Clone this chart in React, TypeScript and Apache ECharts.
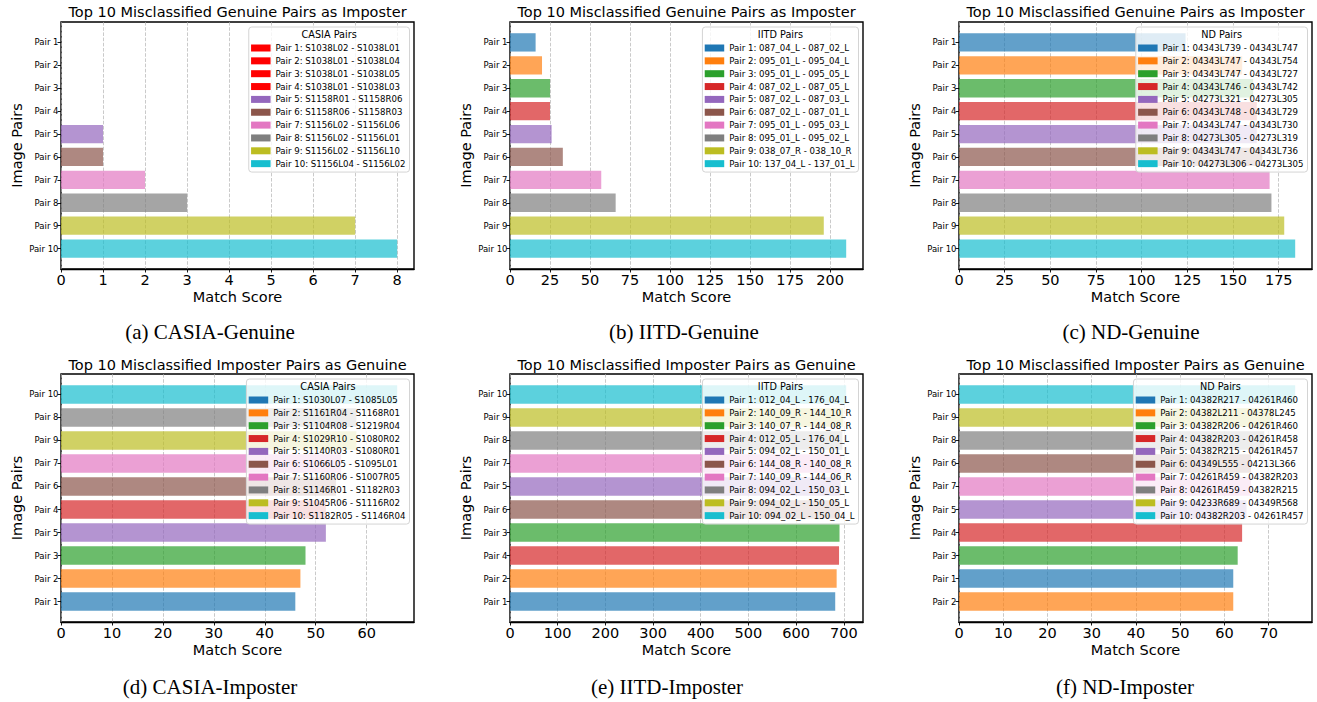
import React, { useEffect, useRef } from 'react';
import * as echarts from 'echarts';

const TAB10 = ['#1f77b4', '#ff7f0e', '#2ca02c', '#d62728', '#9467bd', '#8c564b', '#e377c2', '#7f7f7f', '#bcbd22', '#17becf'];

const TITLE_GENUINE = 'Top 10 Misclassified Genuine Pairs as Imposter';
const TITLE_IMPOSTER = 'Top 10 Misclassified Imposter Pairs as Genuine';

// (a) CASIA-Genuine
const casiaGenOrder = ['Pair 1', 'Pair 2', 'Pair 3', 'Pair 4', 'Pair 5', 'Pair 6', 'Pair 7', 'Pair 8', 'Pair 9', 'Pair 10'];
const casiaGenValues = [0, 0, 0, 0, 1, 1, 2, 3, 7, 8];
const casiaGenNames = [
  'Pair 1: S1038L02 - S1038L01', 'Pair 2: S1038L01 - S1038L04', 'Pair 3: S1038L01 - S1038L05',
  'Pair 4: S1038L01 - S1038L03', 'Pair 5: S1158R01 - S1158R06', 'Pair 6: S1158R06 - S1158R03',
  'Pair 7: S1156L02 - S1156L06', 'Pair 8: S1156L02 - S1156L01', 'Pair 9: S1156L02 - S1156L10',
  'Pair 10: S1156L04 - S1156L02'];
const casiaGenColors = ['#ff0000', '#ff0000', '#ff0000', '#ff0000', '#9467bd', '#8c564b', '#e377c2', '#7f7f7f', '#bcbd22', '#17becf'];
const casiaGenTicks = [0, 1, 2, 3, 4, 5, 6, 7, 8];

// (b) IITD-Genuine
const iitdGenOrder = ['Pair 1', 'Pair 2', 'Pair 3', 'Pair 4', 'Pair 5', 'Pair 6', 'Pair 7', 'Pair 8', 'Pair 9', 'Pair 10'];
const iitdGenValues = [16, 20, 25, 25, 26, 33, 57, 66, 196, 210];
const iitdGenNames = [
  'Pair 1: 087_04_L - 087_02_L', 'Pair 2: 095_01_L - 095_04_L', 'Pair 3: 095_01_L - 095_05_L',
  'Pair 4: 087_02_L - 087_05_L', 'Pair 5: 087_02_L - 087_03_L', 'Pair 6: 087_02_L - 087_01_L',
  'Pair 7: 095_01_L - 095_03_L', 'Pair 8: 095_01_L - 095_02_L', 'Pair 9: 038_07_R - 038_10_R',
  'Pair 10: 137_04_L - 137_01_L'];
const iitdGenTicks = [0, 25, 50, 75, 100, 125, 150, 175, 200];

// (c) ND-Genuine
const ndGenOrder = ['Pair 1', 'Pair 2', 'Pair 3', 'Pair 4', 'Pair 5', 'Pair 6', 'Pair 7', 'Pair 8', 'Pair 9', 'Pair 10'];
const ndGenValues = [124, 155, 161, 163, 163, 166, 170, 171, 178, 184];
const ndGenNames = [
  'Pair 1: 04343L739 - 04343L747', 'Pair 2: 04343L747 - 04343L754', 'Pair 3: 04343L747 - 04343L727',
  'Pair 4: 04343L746 - 04343L742', 'Pair 5: 04273L321 - 04273L305', 'Pair 6: 04343L748 - 04343L729',
  'Pair 7: 04343L747 - 04343L730', 'Pair 8: 04273L305 - 04273L319', 'Pair 9: 04343L747 - 04343L736',
  'Pair 10: 04273L306 - 04273L305'];
const ndGenTicks = [0, 25, 50, 75, 100, 125, 150, 175];

// (d) CASIA-Imposter  (order: top to bottom)
const casiaImpOrder = ['Pair 10', 'Pair 8', 'Pair 9', 'Pair 7', 'Pair 6', 'Pair 4', 'Pair 5', 'Pair 3', 'Pair 2', 'Pair 1'];
const casiaImpValues = [46, 47, 48, 52, 52, 54, 55, 58, 58, 66];
const casiaImpNames = [
  'Pair 1: S1030L07 - S1085L05', 'Pair 2: S1161R04 - S1168R01', 'Pair 3: S1104R08 - S1219R04',
  'Pair 4: S1029R10 - S1080R02', 'Pair 5: S1140R03 - S1080R01', 'Pair 6: S1066L05 - S1095L01',
  'Pair 7: S1160R06 - S1007R05', 'Pair 8: S1146R01 - S1182R03', 'Pair 9: S1045R06 - S1116R02',
  'Pair 10: S1182R05 - S1146R04'];
const casiaImpTicks = [0, 10, 20, 30, 40, 50, 60];

// (e) IITD-Imposter
const iitdImpOrder = ['Pair 10', 'Pair 9', 'Pair 8', 'Pair 7', 'Pair 5', 'Pair 6', 'Pair 3', 'Pair 4', 'Pair 2', 'Pair 1'];
const iitdImpValues = [682, 685, 691, 690, 693, 692, 695, 697, 699, 705];
const iitdImpNames = [
  'Pair 1: 012_04_L - 176_04_L', 'Pair 2: 140_09_R - 144_10_R', 'Pair 3: 140_07_R - 144_08_R',
  'Pair 4: 012_05_L - 176_04_L', 'Pair 5: 094_02_L - 150_01_L', 'Pair 6: 144_08_R - 140_08_R',
  'Pair 7: 140_09_R - 144_06_R', 'Pair 8: 094_02_L - 150_03_L', 'Pair 9: 094_02_L - 150_05_L',
  'Pair 10: 094_02_L - 150_04_L'];
const iitdImpTicks = [0, 100, 200, 300, 400, 500, 600, 700];

// (f) ND-Imposter
const ndImpOrder = ['Pair 10', 'Pair 9', 'Pair 8', 'Pair 6', 'Pair 7', 'Pair 5', 'Pair 4', 'Pair 3', 'Pair 1', 'Pair 2'];
const ndImpValues = [62, 62, 63, 64, 65, 66, 66, 69, 71, 76];
const ndImpNames = [
  'Pair 1: 04382R217 - 04261R460', 'Pair 2: 04382L211 - 04378L245', 'Pair 3: 04382R206 - 04261R460',
  'Pair 4: 04382R203 - 04261R458', 'Pair 5: 04382R215 - 04261R457', 'Pair 6: 04349L555 - 04213L366',
  'Pair 7: 04261R459 - 04382R203', 'Pair 8: 04261R459 - 04382R215', 'Pair 9: 04233R689 - 04349R568',
  'Pair 10: 04382R203 - 04261R457'];
const ndImpTicks = [0, 10, 20, 30, 40, 50, 60, 70];

const panels = [
  { title: TITLE_GENUINE, legendTitle: 'CASIA Pairs', order: casiaGenOrder, values: casiaGenValues, names: casiaGenNames, colors: casiaGenColors, ticks: casiaGenTicks, caption: '(a) CASIA-Genuine' },
  { title: TITLE_GENUINE, legendTitle: 'IITD Pairs', order: iitdGenOrder, values: iitdGenValues, names: iitdGenNames, colors: TAB10, ticks: iitdGenTicks, caption: '(b) IITD-Genuine' },
  { title: TITLE_GENUINE, legendTitle: 'ND Pairs', order: ndGenOrder, values: ndGenValues, names: ndGenNames, colors: TAB10, ticks: ndGenTicks, caption: '(c) ND-Genuine' },
  { title: TITLE_IMPOSTER, legendTitle: 'CASIA Pairs', order: casiaImpOrder, values: casiaImpValues, names: casiaImpNames, colors: TAB10, ticks: casiaImpTicks, caption: '(d) CASIA-Imposter' },
  { title: TITLE_IMPOSTER, legendTitle: 'IITD Pairs', order: iitdImpOrder, values: iitdImpValues, names: iitdImpNames, colors: TAB10, ticks: iitdImpTicks, caption: '(e) IITD-Imposter' },
  { title: TITLE_IMPOSTER, legendTitle: 'ND Pairs', order: ndImpOrder, values: ndImpValues, names: ndImpNames, colors: TAB10, ticks: ndImpTicks, caption: '(f) ND-Imposter' },
];

// layout
const W = 1317;
const H = 702;
const COL_L = [61, 510, 959];
const COL_R = [414, 863, 1312];
const ROW_T = [22, 374];
const ROW_B = [269, 622];
const TITLE_Y = [12.3, 365];
const CAPTION_Y = [332, 687];
const CAPTION_X = [210, 684, 1131, 210, 667, 1125];
const FONT = '"DejaVu Sans"';
const SERIF = '"Liberation Serif", "Times New Roman", serif';

const LEG_FS = 8.6;
const LEG_TITLE_FS = 9.7;
const LEG_IW = 19.5;
const LEG_PAD = [16, 4, 3.4, 2.3];

function rgba(hex: string, a: number) {
  const n = parseInt(hex.slice(1), 16);
  return `rgba(${(n >> 16) & 255},${(n >> 8) & 255},${n & 255},${a})`;
}

let measureCtx: CanvasRenderingContext2D | null = null;
function textWidth(s: string, size: number) {
  if (!measureCtx) measureCtx = document.createElement('canvas').getContext('2d');
  measureCtx!.font = `${size}px ${FONT}`;
  return measureCtx!.measureText(s).width;
}

function buildOption() {
  const grid: any[] = [];
  const xAxis: any[] = [];
  const yAxis: any[] = [];
  const series: any[] = [];
  const legend: any[] = [];
  const graphic: any[] = [];

  panels.forEach((p, i) => {
    const col = i % 3;
    const row = Math.floor(i / 3);
    const L = COL_L[col];
    const R = COL_R[col];
    const T = ROW_T[row];
    const B = ROW_B[row];
    const h = B - T;
    const inset = (0.39 / 10.78) * h;
    const maxV = Math.max(...p.values) * 1.05;
    const interval = p.ticks[1] - p.ticks[0];

    grid.push({ left: L, top: T, width: R - L, height: h, show: true, borderColor: '#000', borderWidth: 1.4, backgroundColor: 'transparent' });
    grid.push({ left: L, top: T + inset, width: R - L, height: h - 2 * inset });

    xAxis.push({
      gridIndex: 2 * i, type: 'value', min: 0, max: maxV, interval,
      axisLine: { show: true, lineStyle: { color: '#000', width: 1.4 } },
      axisTick: { show: true, length: 3.5, lineStyle: { color: '#000', width: 0.9 }, customValues: p.ticks },
      axisLabel: { show: true, fontSize: 14.5, fontFamily: FONT, color: '#000', margin: 3.5, customValues: p.ticks },
      splitLine: { show: true, lineStyle: { color: 'rgba(176,176,176,0.75)', width: 0.9, type: [3.6, 1.6] } },
      name: 'Match Score', nameLocation: 'middle', nameGap: 20,
      nameTextStyle: { fontSize: 14.5, fontFamily: FONT, color: '#000' },
    });
    xAxis.push({ gridIndex: 2 * i + 1, type: 'value', min: 0, max: maxV, show: false });

    yAxis.push({ gridIndex: 2 * i, type: 'value', min: 0, max: 1, show: false });
    yAxis.push({
      gridIndex: 2 * i + 1, type: 'category', data: p.order, inverse: true,
      axisLine: { show: false },
      axisTick: { show: true, alignWithLabel: true, length: 3.5, lineStyle: { color: '#000', width: 0.9 } },
      axisLabel: { fontSize: 8.5, fontFamily: FONT, color: '#000', margin: 2.5 },
      splitLine: { show: false },
      name: 'Image Pairs', nameLocation: 'middle', nameGap: 37, nameRotate: 90,
      nameTextStyle: { fontSize: 14.5, fontFamily: FONT, color: '#000' },
    });

    p.names.forEach((name, k) => {
      const label = `Pair ${k + 1}`;
      series.push({
        type: 'bar', name, xAxisIndex: 2 * i + 1, yAxisIndex: 2 * i + 1,
        data: p.order.map((o) => (o === label ? p.values[k] : '-')),
        barWidth: '80%', barGap: '-100%',
        itemStyle: { color: rgba(p.colors[k], 0.7) },
      });
    });

    const maxTW = Math.max(...p.names.map((n) => textWidth(n, LEG_FS)));
    const boxW = LEG_PAD[3] + LEG_IW + 5 + maxTW + LEG_PAD[1];
    const boxRight = R - 4.5;
    const boxTop = T + 5;
    legend.push({
      show: true, orient: 'vertical', align: 'left', right: W - boxRight, top: boxTop,
      data: p.names.map((n, k) => ({ name: n, itemStyle: { color: p.colors[k], opacity: 1 } })),
      selectedMode: false, icon: 'rect', itemWidth: LEG_IW, itemHeight: 7, itemGap: 2.85,
      padding: LEG_PAD, backgroundColor: 'rgba(255,255,255,0.8)', borderColor: '#d4d4d4', borderWidth: 1, borderRadius: 3,
      textStyle: { fontSize: LEG_FS, fontFamily: FONT, color: '#000', lineHeight: 10 },
    });

    graphic.push({
      type: 'text', x: boxRight - boxW / 2, y: boxTop + 7, z: 100,
      style: { text: p.legendTitle, fontSize: LEG_TITLE_FS, fontFamily: FONT, fill: '#000', textAlign: 'center', textVerticalAlign: 'middle' },
    });
    graphic.push({
      type: 'text', x: (L + R) / 2, y: TITLE_Y[row], z: 100,
      style: { text: p.title, fontSize: 14.5, fontFamily: FONT, fill: '#000', textAlign: 'center', textVerticalAlign: 'middle' },
    });
    graphic.push({
      type: 'text', x: CAPTION_X[i], y: CAPTION_Y[row], z: 100,
      style: { text: p.caption, fontSize: 21, fontFamily: SERIF, fill: '#000', textAlign: 'center', textVerticalAlign: 'middle' },
    });
  });

  return { animation: false, backgroundColor: '#fff', grid, xAxis, yAxis, series, legend, graphic };
}

export default function App() {
  const ref = useRef<HTMLDivElement>(null);
  useEffect(() => {
    if (!ref.current) return;
    const chart = echarts.init(ref.current, undefined, { renderer: 'svg' });
    chart.setOption(buildOption() as any);
    return () => chart.dispose();
  }, []);
  return <div ref={ref} style={{ position: 'fixed', left: 0, top: 0, width: W, height: H, background: '#fff' }} />;
}
